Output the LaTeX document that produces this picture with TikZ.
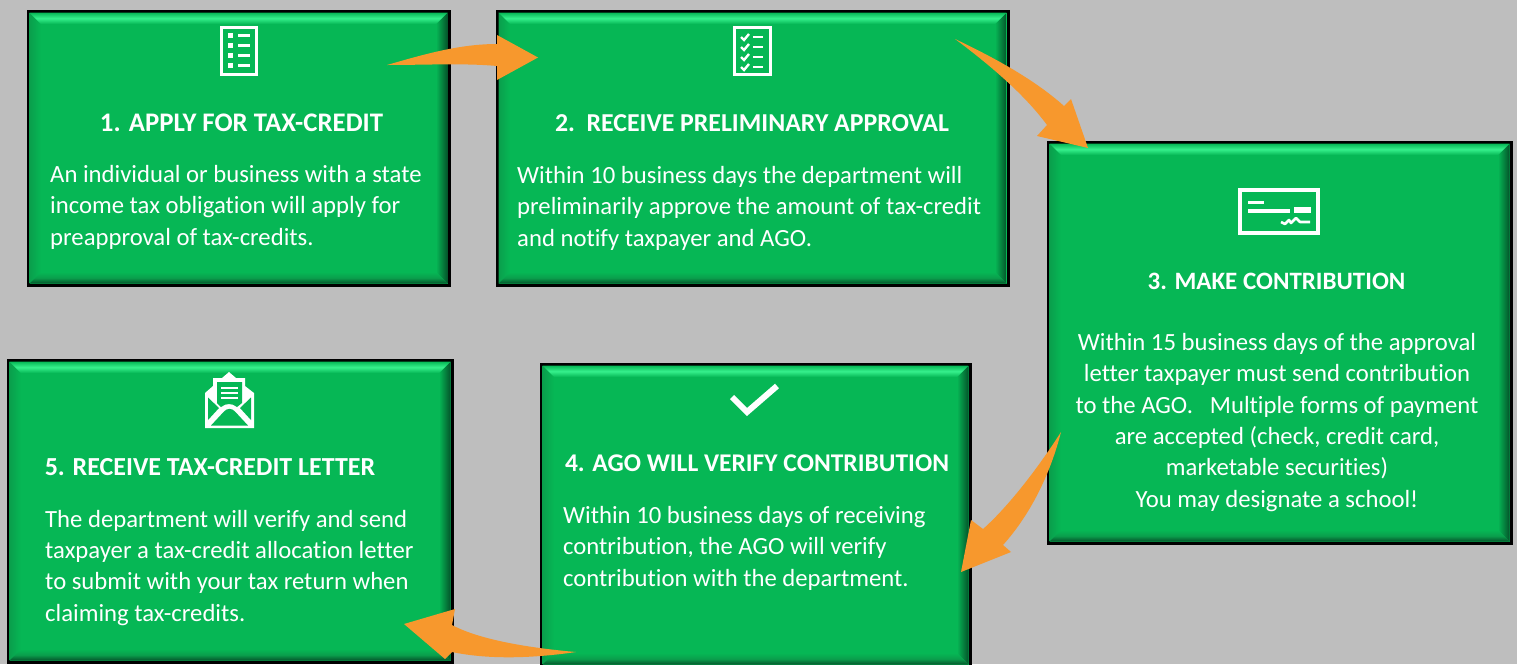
\documentclass[tikz,border=0pt]{standalone}
\usepackage{fontspec}
\setmainfont{Carlito}[Ligatures=NoCommon]
\usetikzlibrary{calc}
\definecolor{bgray}{HTML}{BEBEBE}
\definecolor{pgreen}{HTML}{06B755}
\definecolor{phigh}{HTML}{36F08C}
\definecolor{pdark}{HTML}{04532A}
\definecolor{pmid}{HTML}{0A9F4C}
\definecolor{aorange}{HTML}{F7982D}
\tikzset{
 panel/.style={draw=black,line width=3pt,fill=pgreen,inner sep=0pt,outer sep=0pt},
 flowarrow/.style={fill=aorange,draw=none},
 headtext/.style={text=white,font=\fontsize{#1}{30}\selectfont\bfseries,inner sep=0pt,anchor=base},
 bodytext/.style={text=white,font=\fontsize{24.7}{31.3}\selectfont,inner sep=0pt},
}
% name, x1, y1, x2, y2
\newcommand{\bevelpanel}[5]{%
 \pgfmathsetmacro{\cxx}{(#2+#4)/2}\pgfmathsetmacro{\cyy}{(#3+#5)/2}%
 \pgfmathsetmacro{\www}{#4-#2}\pgfmathsetmacro{\hhh}{#5-#3}%
 \node[panel,minimum width=\www pt,minimum height=\hhh pt] (#1) at (\cxx,\cyy) {};
 \pgfmathsetmacro{\ax}{#2+1.5}\pgfmathsetmacro{\ay}{#3+1.5}\pgfmathsetmacro{\bx}{#4-1.5}\pgfmathsetmacro{\by}{#5-1.5}%
 \pgfmathsetmacro{\cx}{#2+13}\pgfmathsetmacro{\cy}{#3+13}\pgfmathsetmacro{\dx}{#4-13}\pgfmathsetmacro{\dy}{#5-13}%
 \shade[left color=pgreen,right color=pdark] (\bx,\ay) -- (\dx,\cy) -- (\dx,\dy) -- (\bx,\by) -- cycle;
 \shade[left color=pmid,right color=pgreen] (\ax,\ay) -- (\cx,\cy) -- (\cx,\dy) -- (\ax,\by) -- cycle;
 \shade[top color=pgreen,bottom color=pdark,middle color=pmid] (\ax,\by) -- (\cx,\dy) -- (\dx,\dy) -- (\bx,\by) -- cycle;
 \shade[top color=pgreen,bottom color=pgreen,middle color=phigh] (\ax,\ay) -- (\bx,\ay) -- (\dx,\cy) -- (\cx,\cy) -- cycle;
}
\begin{document}
\begin{tikzpicture}[x=1pt,y=-1pt]
\useasboundingbox (0,0) rectangle (1517,664);
\fill[bgray] (0,0) rectangle (1517,664);
\clip (0,0) rectangle (1517,664);

\bevelpanel{box1}{28}{11}{449}{285}
\bevelpanel{box2}{497}{11}{1008}{285}
\bevelpanel{box3}{1048}{142}{1511}{543}
\bevelpanel{box4}{541}{364}{970}{666}
\bevelpanel{box5}{8}{360}{452}{662}

% icon 1: list
\node[draw=white,line width=3pt,minimum width=35pt,minimum height=47pt,inner sep=0pt] (icon1) at (239,51) {};
\foreach \yy in {35.5,45.5,55.5,65.5}{
 \fill[white] (227.5,\yy-2.5) rectangle (233,\yy+2.5);
 \draw[white,line width=2.2pt] (238,\yy) -- (250,\yy);
}
% icon 2: checklist
\node[draw=white,line width=3pt,minimum width=36pt,minimum height=47pt,inner sep=0pt] (icon2) at (752.5,51) {};
\foreach \yy in {37,47,57,67}{
 \draw[white,line width=2.4pt] (741,\yy) -- (744,\yy+3) -- (749,\yy-3);
 \draw[white,line width=2.2pt] (753,\yy) -- (763,\yy);
}
% icon 3: cheque
\node[draw=white,line width=4pt,minimum width=78pt,minimum height=43pt,inner sep=0pt] (icon3) at (1279,211.5) {};
\draw[white,line width=3pt] (1248,202) -- (1264,202);
\draw[white,line width=3.5pt] (1248,211) -- (1290,211);
\fill[white] (1294,207) rectangle (1311,213);
\draw[white,line width=2.6pt,line join=round] (1281,222) -- (1285,224) -- (1289,220) -- (1291,223) -- (1296,218) -- (1300,222) -- (1310,222);
% icon 4: tick
\coordinate (tickA) at (732,397);
\coordinate (tickB) at (747,412);
\coordinate (tickC) at (777,386);
\draw[white,line width=6pt] (tickA) -- (tickB) -- (tickC);
% icon 5: open envelope
\fill[white] (205,393) -- (213,386) -- (213,378) -- (222,378) -- (229,372) -- (236,378) -- (245,378) -- (245,386) -- (254,393) -- (254,428) -- (205,428) -- cycle;
\fill[pgreen] (217,382) -- (242,382) -- (242,403) -- (237,407) .. controls (232,403) and (226,403) .. (221,407) -- (217,403) -- cycle;
\foreach \yy in {387.5,392.5,397.5}{\draw[white,line width=2pt] (221,\yy) -- (238,\yy);}
\fill[pgreen] (208,397.5) -- (219,408) -- (208,420) -- cycle;
\fill[pgreen] (251,397.5) -- (240,408) -- (251,420) -- cycle;
\fill[pgreen] (211,425.5) -- (224,411.5) .. controls (227,408) and (232,408) .. (235,411.5) -- (248,425.5) -- cycle;

% headings
\node[headtext=26.8] (h1) at (241.5,131) {1. APPLY FOR TAX-CREDIT};
\node[headtext=25.8] (h2) at (752,131) {2.\ \ RECEIVE PRELIMINARY APPROVAL};
\node[headtext=25] (h3) at (1276.5,289) {3. MAKE CONTRIBUTION};
\node[headtext=25.5] (h4) at (757,471) {4. AGO WILL VERIFY CONTRIBUTION};
\node[headtext=26] (h5) at (210,475) {5. RECEIVE TAX-CREDIT LETTER};

% body texts
\node[bodytext,align=left,anchor=base west] (t1) at (50,245) {An individual or business with a state\\income tax obligation will apply for\\preapproval of tax-credits.};
\node[bodytext,align=left,anchor=base west] (t2) at (517,246) {Within 10 business days the department will\\preliminarily approve the amount of tax-credit\\and notify taxpayer and AGO.};
\node[bodytext,align=center,anchor=base] (t3) at (1277,507) {Within 15 business days of the approval\\letter taxpayer must send contribution\\to the AGO.\ \ \ Multiple forms of payment\\are accepted (check, credit card,\\marketable securities)\\You may designate a school!};
\node[bodytext,align=left,anchor=base west] (t4) at (563,586) {Within 10 business days of receiving\\contribution, the AGO will verify\\contribution with the department.};
\node[bodytext,align=left,anchor=base west] (t5) at (45,621) {The department will verify and send\\taxpayer a tax-credit allocation letter\\to submit with your tax return when\\claiming tax-credits.};

% arrows
\coordinate (a1tail) at (387,65);
\coordinate (a1tip) at (538,57.5);
\fill[flowarrow] (a1tail) .. controls (425,54) and (460,44) .. (497,44) -- (497,35) -- (a1tip) -- (497,80) -- (497,66) .. controls (465,63) and (425,65) .. (a1tail) -- cycle;
\coordinate (a2tail) at (955,39);
\coordinate (a2tip) at (1088,148);
\fill[flowarrow] (a2tail) .. controls (995,58) and (1035,80) .. (1064,106) -- (1071,99) -- (a2tip) -- (1037,136) -- (1047,125) .. controls (1025,95) and (990,65) .. (a2tail) -- cycle;
\coordinate (a3tail) at (1061,432);
\coordinate (a3tip) at (961,572);
\fill[flowarrow] (a3tail) .. controls (1050,475) and (1030,515) .. (1003,545) -- (1011,552) -- (a3tip) -- (971,520) -- (983,529) .. controls (1010,505) and (1040,465) .. (a3tail) -- cycle;
\coordinate (a4tail) at (576,652);
\coordinate (a4tip) at (404,624);
\fill[flowarrow] (a4tail) .. controls (530,648) and (480,640) .. (452,625) -- (455,609) -- (a4tip) -- (445,659) -- (452,652) .. controls (490,660) and (535,658) .. (a4tail) -- cycle;
\end{tikzpicture}
\end{document}
